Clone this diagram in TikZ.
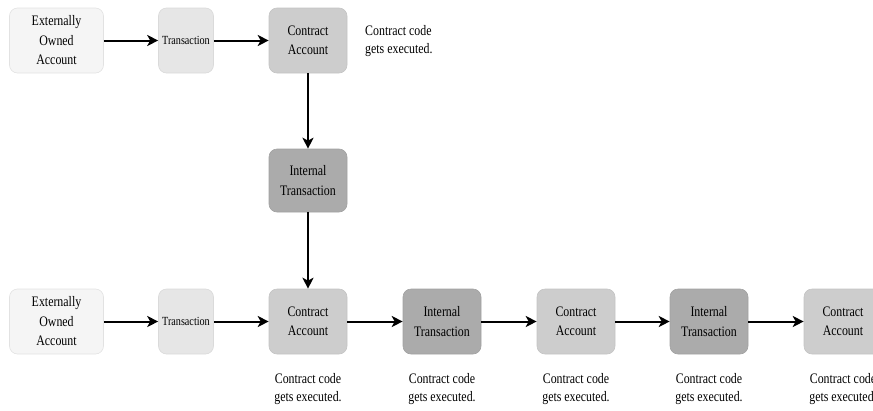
\documentclass[tikz,border=0pt]{standalone}
\usepackage{fontspec}
\setmainfont{Liberation Serif}[FakeStretch=0.82]
\usetikzlibrary{arrows.meta}
\definecolor{eoafill}{HTML}{F5F5F5}
\definecolor{eoadraw}{HTML}{E2E2E2}
\definecolor{txfill}{HTML}{E6E6E6}
\definecolor{txdraw}{HTML}{DADADA}
\definecolor{cafill}{HTML}{CDCDCD}
\definecolor{cadraw}{HTML}{C4C4C4}
\definecolor{itfill}{HTML}{ABABAB}
\definecolor{itdraw}{HTML}{A2A2A2}
\tikzset{
  box/.style={rounded corners=8pt, inner sep=0pt, minimum height=65pt, align=center,
    font=\fontsize{14.5}{19.5}\selectfont, line width=0.6pt},
  eoabox/.style={box, fill=eoafill, draw=eoadraw, minimum width=94pt},
  txbox/.style={box, fill=txfill, draw=txdraw, minimum width=55pt, font=\fontsize{12.4}{15}\selectfont},
  cabox/.style={box, fill=cafill, draw=cadraw, minimum width=78pt},
  itbox/.style={box, fill=itfill, draw=itdraw, minimum width=78pt},
  note/.style={font=\fontsize{14.5}{18}\selectfont, inner sep=0pt},
  arr/.style={line width=2pt, -{Stealth[length=11pt,width=11pt,inset=3pt]}}
}
\begin{document}
\begin{tikzpicture}[x=1pt,y=-1pt]
\useasboundingbox (0,0) rectangle (873,410);
\clip (0,0) rectangle (873,410);
% top row
\node[eoabox] (eoa1) at (56.5,40.5) {Externally\\Owned\\Account};
\node[txbox] (t1) at (186,40.5) {Transaction};
\node[cabox] (ca1) at (308,40.5) {Contract\\Account};
\node[note, anchor=west, align=left] (n0) at (365,41) {Contract code\\gets executed.};
% middle
\node[itbox, minimum height=63pt] (it0) at (308,180.5) {Internal\\Transaction};
% bottom row
\node[eoabox] (eoa2) at (56.5,321.5) {Externally\\Owned\\Account};
\node[txbox] (t2) at (186,321.5) {Transaction};
\node[cabox] (ca2) at (308,321.5) {Contract\\Account};
\node[itbox] (it1) at (442,321.5) {Internal\\Transaction};
\node[cabox] (ca3) at (576,321.5) {Contract\\Account};
\node[itbox] (it2) at (709,321.5) {Internal\\Transaction};
\node[cabox] (ca4) at (843,321.5) {Contract\\Account};
% labels
\node[note, align=center] (n1) at (308,389) {Contract code\\gets executed.};
\node[note, align=center] (n2) at (442,389) {Contract code\\gets executed.};
\node[note, align=center] (n3) at (576,389) {Contract code\\gets executed.};
\node[note, align=center] (n4) at (709,389) {Contract code\\gets executed.};
\node[note, align=center] (n5) at (843,389) {Contract code\\gets executed.};
% arrows
\draw[arr] (eoa1) -- (t1);
\draw[arr] (t1) -- (ca1);
\draw[arr] (ca1) -- (it0);
\draw[arr] (it0) -- (ca2);
\draw[arr] (eoa2) -- (t2);
\draw[arr] (t2) -- (ca2);
\draw[arr] (ca2) -- (it1);
\draw[arr] (it1) -- (ca3);
\draw[arr] (ca3) -- (it2);
\draw[arr] (it2) -- (ca4);
\end{tikzpicture}
\end{document}
